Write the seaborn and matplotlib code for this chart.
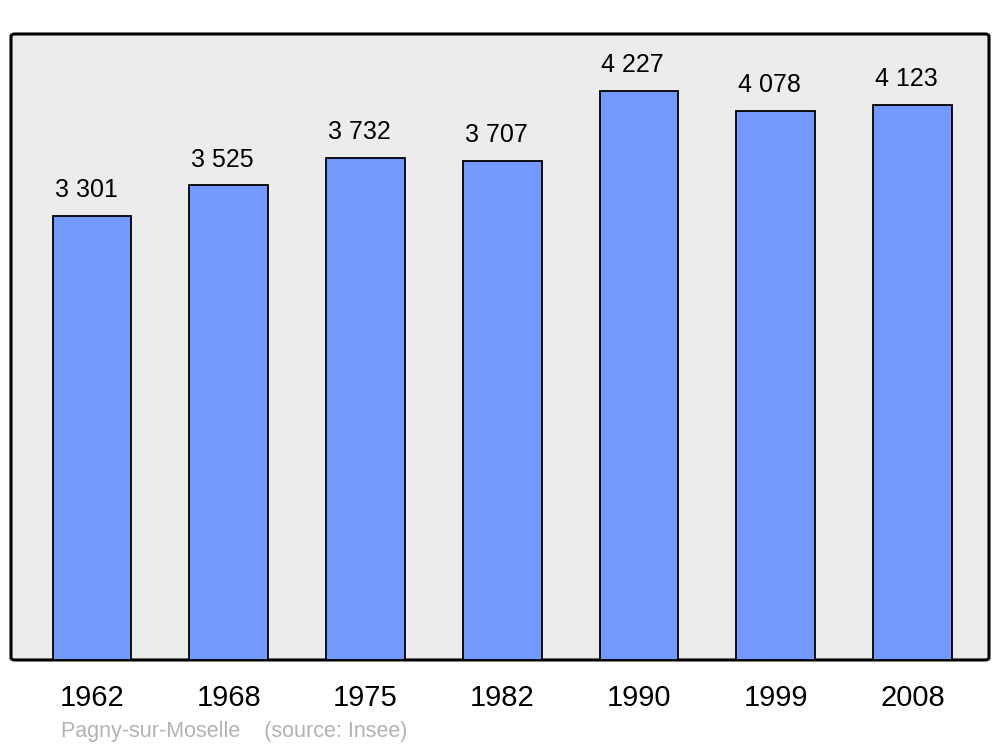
import matplotlib
matplotlib.use("Agg")
import matplotlib.pyplot as plt
from matplotlib.patches import FancyBboxPatch
import seaborn as sns
import pandas as pd

years = ["1962", "1968", "1975", "1982", "1990", "1999", "2008"]
population = [3301, 3525, 3732, 3707, 4227, 4078, 4123]
labels = ["3 301", "3 525", "3 732", "3 707", "4 227", "4 078", "4 123"]

df = pd.DataFrame({"year": years, "pop": population})

sns.set_style("white")
plt.rcParams["font.family"] = ["Liberation Sans", "DejaVu Sans"]

fig = plt.figure(figsize=(10, 7.47), dpi=100)
ax = fig.add_axes([0.011, 0.1165, 0.978, 0.838])
ax.set_facecolor("none")

sns.barplot(data=df, x="year", y="pop", color="#7399ff", saturation=1,
            width=0.575, edgecolor="black", linewidth=1.3, ax=ax, zorder=3)

# frame with rounded corners
frame = FancyBboxPatch((0, 0), 1, 1, boxstyle="round,pad=0,rounding_size=0.004",
                       transform=ax.transAxes, facecolor="#ececec",
                       edgecolor="black", linewidth=2.2, zorder=0, clip_on=False)
ax.add_patch(frame)

for i, (v, t) in enumerate(zip(population, labels)):
    ax.annotate(t, xy=(i - 0.29, v), xytext=(1.5, 13.5), textcoords="offset points",
                ha="left", va="baseline", fontsize=18, color="black")

ax.set_xlim(-0.593, 6.56)
ax.set_ylim(0, 4650)
ax.set_xlabel("")
ax.set_ylabel("")
ax.set_yticks([])
for s in ax.spines.values():
    s.set_visible(False)
ax.tick_params(axis="x", length=0, pad=17, labelsize=21, colors="black")

fig.text(0.061, 0.013, "Pagny-sur-Moselle    (source: Insee)", color="#b3b3b3",
         fontsize=15.5, ha="left", va="baseline")

fig.savefig("out.png", dpi=100, facecolor="white")
